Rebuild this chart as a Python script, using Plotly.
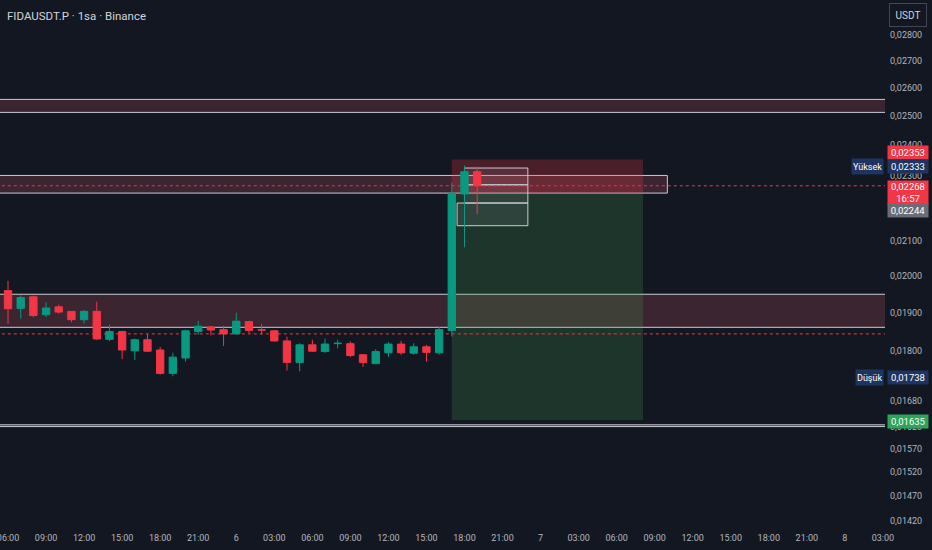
import math
import pandas as pd
import plotly.graph_objects as go

chart_title = "FIDAUSDT.P · 1sa · Binance"

# hourly candles from 5th 06:00 to 6th 19:00
opens = [0.01959, 0.01911, 0.01942, 0.01894, 0.01915, 0.01903, 0.01881, 0.01903,
         0.01830, 0.01850, 0.01801, 0.01829, 0.01803, 0.01745, 0.01783, 0.01850,
         0.01862, 0.01855, 0.01844, 0.01876, 0.01855, 0.01852, 0.01826, 0.01772,
         0.01816, 0.01799, 0.01819, 0.01819, 0.01791, 0.01769, 0.01796, 0.01818,
         0.01795, 0.01811, 0.01796, 0.01853, 0.02242, 0.02313]
highs = [0.01986, 0.01946, 0.01945, 0.01927, 0.01921, 0.01904, 0.01907, 0.01929,
         0.01868, 0.01852, 0.01832, 0.01844, 0.01811, 0.01796, 0.01855, 0.01878,
         0.01865, 0.01865, 0.01899, 0.01878, 0.01870, 0.01853, 0.01837, 0.01820,
         0.01829, 0.01832, 0.01829, 0.01825, 0.01792, 0.01805, 0.01823, 0.01826,
         0.01820, 0.01816, 0.01862, 0.02278, 0.02333, 0.02330]
lows = [0.01870, 0.01884, 0.01887, 0.01888, 0.01897, 0.01874, 0.01871, 0.01829,
        0.01825, 0.01780, 0.01778, 0.01798, 0.01742, 0.01738, 0.01774, 0.01842,
        0.01840, 0.01813, 0.01842, 0.01846, 0.01842, 0.01824, 0.01752, 0.01750,
        0.01799, 0.01796, 0.01807, 0.01785, 0.01761, 0.01768, 0.01785, 0.01791,
        0.01791, 0.01774, 0.01791, 0.01837, 0.02081, 0.02180]
closes = [0.01910, 0.01940, 0.01892, 0.01912, 0.01901, 0.01881, 0.01903, 0.01831,
          0.01850, 0.01803, 0.01829, 0.01800, 0.01745, 0.01785, 0.01852, 0.01864,
          0.01854, 0.01844, 0.01877, 0.01853, 0.01854, 0.01826, 0.01772, 0.01816,
          0.01800, 0.01818, 0.01820, 0.01789, 0.01772, 0.01799, 0.01818, 0.01796,
          0.01811, 0.01797, 0.01855, 0.02245, 0.02313, 0.02268]

times = pd.date_range("2025-02-05 06:00", periods=len(opens), freq="h")

y_tick_vals = [0.0142, 0.0147, 0.0152, 0.0157, 0.0162, 0.0168, 0.0180, 0.0190,
               0.0200, 0.0210, 0.0230, 0.0240, 0.0250, 0.0260, 0.0270, 0.0280]
y_tick_text = ["0,01420", "0,01470", "0,01520", "0,01570", "0,01620", "0,01680",
               "0,01800", "0,01900", "0,02000", "0,02100", "0,02300", "0,02400",
               "0,02500", "0,02600", "0,02700", "0,02800"]
x_tick_text = ["06:00", "09:00", "12:00", "15:00", "18:00", "21:00", "6",
               "03:00", "06:00", "09:00", "12:00", "15:00", "18:00", "21:00", "7",
               "03:00", "06:00", "09:00", "12:00", "15:00", "18:00", "21:00", "8",
               "03:00"]
x_tick_vals = pd.date_range("2025-02-05 06:00", periods=len(x_tick_text), freq="3h")

# drawn zones (price bottom, price top)
zone_top = (0.02513, 0.02559)
zone_mid = (0.02245, 0.02301)
zone_low = (0.01861, 0.01949)
zone_floor = (0.01620, 0.01624)

# short position tool
entry_price = 0.02244
stop_price = 0.02353
target_price = 0.01635

last_price = 0.02268
prev_close = 0.01844
high_price = 0.02333
low_price = 0.01738

bg = "#131722"
up = "#089981"
down = "#f23645"

fig = go.Figure()
fig.add_trace(go.Candlestick(
    x=times, open=opens, high=highs, low=lows, close=closes,
    increasing=dict(line=dict(color=up, width=1), fillcolor=up),
    decreasing=dict(line=dict(color=down, width=1), fillcolor=down),
    hoverinfo="skip",
))

x_lo = pd.Timestamp("2025-02-04 12:00")
x_hi = pd.Timestamp("2025-02-09 00:00")
zone_fill = "rgba(136,62,76,0.35)"
zone_line = dict(color="#c9cbd3", width=1)

for z in (zone_top, zone_low, zone_floor):
    fig.add_shape(type="rect", xref="x", yref="y", x0=x_lo, x1=x_hi, y0=z[0], y1=z[1],
                  line=zone_line, fillcolor=zone_fill, layer="below")
fig.add_shape(type="rect", xref="x", yref="y", x0=x_lo, x1=pd.Timestamp("2025-02-07 10:00"),
              y0=zone_mid[0], y1=zone_mid[1], line=zone_line, fillcolor=zone_fill, layer="below")

# position tool
pos_x0 = pd.Timestamp("2025-02-06 17:00")
pos_x1 = pd.Timestamp("2025-02-07 08:05")
fig.add_shape(type="rect", xref="x", yref="y", x0=pos_x0, x1=pos_x1, y0=entry_price, y1=stop_price,
              line=dict(width=0), fillcolor="rgba(242,54,69,0.25)", layer="below")
fig.add_shape(type="rect", xref="x", yref="y", x0=pos_x0, x1=pos_x1, y0=target_price, y1=entry_price,
              line=dict(width=0), fillcolor="rgba(76,175,80,0.2)", layer="below")

# small boxes near the spike
box_line = dict(color="#c9cbd3", width=1)
box_fill = "rgba(200,200,210,0.10)"
fig.add_shape(type="rect", xref="x", yref="y", x0=pd.Timestamp("2025-02-06 18:00"),
              x1=pd.Timestamp("2025-02-06 23:00"), y0=0.02271, y1=0.02325,
              line=box_line, fillcolor=box_fill, layer="below")
fig.add_shape(type="rect", xref="x", yref="y", x0=pd.Timestamp("2025-02-06 18:00"),
              x1=pd.Timestamp("2025-02-06 23:00"), y0=0.02214, y1=0.02271,
              line=box_line, fillcolor=box_fill, layer="below")
fig.add_shape(type="rect", xref="x", yref="y", x0=pd.Timestamp("2025-02-06 17:25"),
              x1=pd.Timestamp("2025-02-06 23:00"), y0=0.02145, y1=0.02214,
              line=box_line, fillcolor=box_fill, layer="below")

# dotted price lines
for lvl in (last_price, prev_close):
    fig.add_shape(type="line", xref="x", yref="y", x0=x_lo, x1=x_hi, y0=lvl, y1=lvl,
                  line=dict(color=down, width=1, dash="dot"), layer="below")

# right axis price labels
def price_label(text, price, color, yshift=0, height=13, yanchor="middle"):
    fig.add_annotation(xref="paper", x=1, xanchor="left", xshift=2,
                       yref="y", y=math.log10(price), yanchor=yanchor, yshift=yshift,
                       text=text, showarrow=False, bgcolor=color, width=40, height=height,
                       borderpad=0, font=dict(color="#ffffff", size=9.5, family="Roboto"))

navy = "#1d3461"
price_label("0,02353", stop_price, down, yshift=7)
price_label("0,02333", high_price, navy, yshift=-1)
price_label("0,02268<br>16:57", last_price, down, yshift=6, height=23, yanchor="top")
price_label("0,02244", entry_price, "#6a6d78", yshift=-17)
price_label("0,01738", low_price, navy, yshift=-1)
price_label("0,01635", target_price, "#2ba55a", yshift=-2)

for txt, price in (("Yüksek", high_price), ("Düşük", low_price)):
    fig.add_annotation(xref="paper", x=1, xanchor="right", xshift=-1,
                       yref="y", y=math.log10(price), yshift=-1,
                       text=txt, showarrow=False, bgcolor=navy, height=13, borderpad=1,
                       font=dict(color="#ffffff", size=9, family="Roboto"))

fig.add_annotation(xref="paper", x=1, xanchor="left", xshift=4, yref="paper", y=1,
                   yanchor="top", yshift=-3, text="USDT", showarrow=False, width=34, height=20,
                   bordercolor="#434651", borderwidth=1, bgcolor=bg,
                   font=dict(color="#d1d4dc", size=10, family="Roboto"))

fig.add_annotation(xref="paper", x=0, xanchor="left", xshift=5, yref="paper", y=1,
                   yanchor="top", yshift=-7, text=chart_title, showarrow=False,
                   font=dict(color="#d1d4dc", size=11.5, family="Roboto"))

fig.update_layout(
    width=932, height=550,
    margin=dict(l=0, r=47, t=0, b=22),
    paper_bgcolor=bg, plot_bgcolor=bg,
    showlegend=False, hovermode=False, boxgap=0.17,
    font=dict(family="Roboto", color="#b2b5be", size=9),
)
fig.update_xaxes(
    type="date", range=[pd.Timestamp("2025-02-05 05:22"), pd.Timestamp("2025-02-08 03:10")],
    rangeslider_visible=False, showgrid=False, zeroline=False, showline=False,
    tickvals=x_tick_vals, ticktext=x_tick_text, ticks="", ticklabelstandoff=3,
    ticklabeloverflow="allow", automargin=False, tickfont=dict(size=9, color="#b2b5be"),
)
fig.update_yaxes(
    type="log", side="right", range=[-1.852041, -1.531601],
    showgrid=False, zeroline=False, showline=False, ticks="", automargin=False,
    tickvals=y_tick_vals, ticktext=y_tick_text, ticklabelstandoff=4,
    tickfont=dict(size=9, color="#b2b5be"),
)

fig.write_html("out.html", post_script="document.body.style.margin='0';",
               config={"displayModeBar": False})
